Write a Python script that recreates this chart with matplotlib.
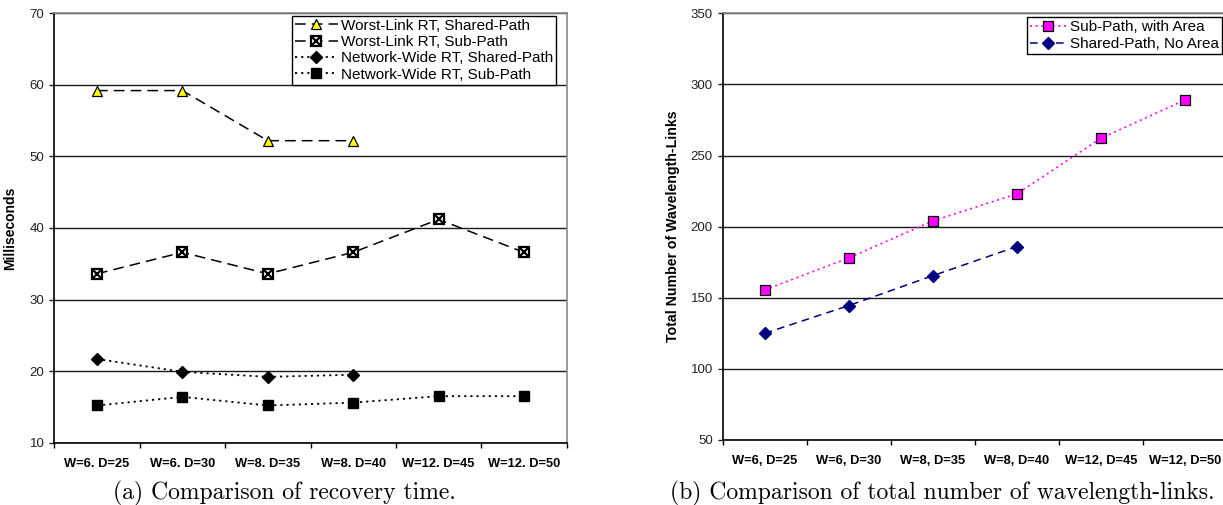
import matplotlib
matplotlib.use("Agg")
import matplotlib.pyplot as plt
from matplotlib.legend_handler import HandlerTuple

plt.rcParams['font.family'] = ['Liberation Sans', 'DejaVu Sans']

# Data
cats_a = ["W=6. D=25", "W=6. D=30", "W=8. D=35", "W=8. D=40", "W=12. D=45", "W=12. D=50"]
worst_shared = [59.2, 59.2, 52.2, 52.2]
worst_sub = [33.6, 36.6, 33.6, 36.6, 41.2, 36.6]
net_shared = [21.7, 19.9, 19.2, 19.5]
net_sub = [15.2, 16.4, 15.2, 15.6, 16.5, 16.5]

cats_b = ["W=6, D=25", "W=6, D=30", "W=8, D=35", "W=8, D=40", "W=12, D=45", "W=12, D=50"]
sub_area = [155.5, 178, 204, 223, 262, 289]
shared_noarea = [125, 144.5, 165.5, 186]

W, H = 1223, 505
fig = plt.figure(figsize=(W / 100, H / 100), dpi=100)


def px_axes(left, top, right, bottom):
    return fig.add_axes([left / W, 1 - bottom / H, (right - left) / W, (bottom - top) / H])


def style_axes(ax, cats, ylim, yticks):
    n = len(cats)
    ax.set_xlim(-0.5, n - 0.5)
    ax.set_ylim(*ylim)
    ax.set_yticks(yticks)
    ax.set_xticks(range(n))
    ax.set_xticklabels(cats, fontsize=9.3, fontweight='bold')
    ax.set_xticks([i - 0.5 for i in range(n + 1)], minor=True)
    ax.tick_params(axis='x', which='major', length=0, pad=11)
    ax.tick_params(axis='x', which='minor', length=3.6, width=1, direction='out')
    ax.tick_params(axis='y', length=3.6, width=1, pad=3.5, labelsize=9.5, colors='#222222')
    ax.yaxis.grid(True, color='#1a1a1a', lw=1)
    ax.set_axisbelow(True)
    for s in ['left', 'bottom']:
        ax.spines[s].set_color('black')
        ax.spines[s].set_linewidth(1.2)
    for s in ['top', 'right']:
        ax.spines[s].set_color('#888888')
        ax.spines[s].set_linewidth(1.2)


# (a) recovery time
ax1 = px_axes(54.3, 13.3, 566.7, 442.7)
style_axes(ax1, cats_a, (10, 70), range(10, 71, 10))
x_ws = range(len(worst_shared))
x_wu = range(len(worst_sub))
x_ns = range(len(net_shared))
x_nu = range(len(net_sub))

h1, = ax1.plot(x_ws, worst_shared, color='black', lw=1.1, ls=(0, (7, 4)),
               marker='^', ms=7.5, mfc='#ffff00', mec='black', mew=0.9, zorder=4)
h2a, = ax1.plot(x_wu, worst_sub, color='black', lw=1.1, ls=(0, (7, 4)),
                marker='s', ms=7.5, mfc='white', mec='black', mew=1.6, zorder=4)
h2b, = ax1.plot(x_wu, worst_sub, ls='none', marker='x', ms=6, mec='black', mew=1.6, zorder=5)
h3, = ax1.plot(x_ns, net_shared, color='black', lw=1.3, ls=(0, (1.2, 2.2)),
               marker='D', ms=6, mfc='black', mec='black', zorder=4)
h4, = ax1.plot(x_nu, net_sub, color='black', lw=1.3, ls=(0, (1.2, 2.2)),
               marker='s', ms=7, mfc='black', mec='black', zorder=4)

ax1.set_ylabel("Milliseconds", fontsize=10, fontweight='bold')
ax1.yaxis.set_label_coords((17 - 54.3) / 512.4, 0.5)

leg1 = fig.legend([h1, (h2a, h2b), h3, h4],
                  ["Worst-Link RT, Shared-Path", "Worst-Link RT, Sub-Path",
                   "Network-Wide RT, Shared-Path", "Network-Wide RT, Sub-Path"],
                  handler_map={tuple: HandlerTuple(ndivide=1)},
                  loc='upper right', bbox_to_anchor=(556 / W, 1 - 15.7 / H),
                  fontsize=11, handlelength=2.8, handletextpad=0.2,
                  labelspacing=0.15, borderpad=0.2, borderaxespad=0,
                  fancybox=False, framealpha=1, edgecolor='black')
leg1.get_frame().set_linewidth(1)

# (b) wavelength-links
ax2 = px_axes(722.7, 13.3, 1226.7, 440)
style_axes(ax2, cats_b, (50, 350), range(50, 351, 50))
x_sa = range(len(sub_area))
x_sn = range(len(shared_noarea))

g1, = ax2.plot(x_sa, sub_area, color='#ff00ff', lw=1.2, ls=(0, (1.2, 2.2)),
               marker='s', ms=7.5, mfc='#ff00ff', mec='black', mew=0.9, zorder=4)
g2, = ax2.plot(x_sn, shared_noarea, color='#000080', lw=1.1, ls=(0, (5, 3.5)),
               marker='D', ms=6, mfc='#000080', mec='#000080', zorder=4)

ax2.set_ylabel("Total Number of Wavelength-Links", fontsize=10.2, fontweight='bold')
ax2.yaxis.set_label_coords((680 - 722.7) / 504, 0.5)

leg2 = fig.legend([g1, g2], ["Sub-Path, with Area", "Shared-Path, No Area"],
                  loc='upper right', bbox_to_anchor=(1221.7 / W, 1 - 17.3 / H),
                  fontsize=11, handlelength=2.4, handletextpad=0.2,
                  labelspacing=0.2, borderpad=0.2, borderaxespad=0,
                  fancybox=False, framealpha=1, edgecolor='black')
leg2.get_frame().set_linewidth(1)

# captions
fig.text(113 / W, 1 - 493 / H, "(a) Comparison of recovery time.",
         family='cmr10', fontsize=17, ha='left', va='center')
fig.text(670 / W, 1 - 493 / H, "(b) Comparison of total number of wavelength-links.",
         family='cmr10', fontsize=17, ha='left', va='center')

fig.savefig("out.png", dpi=100)
